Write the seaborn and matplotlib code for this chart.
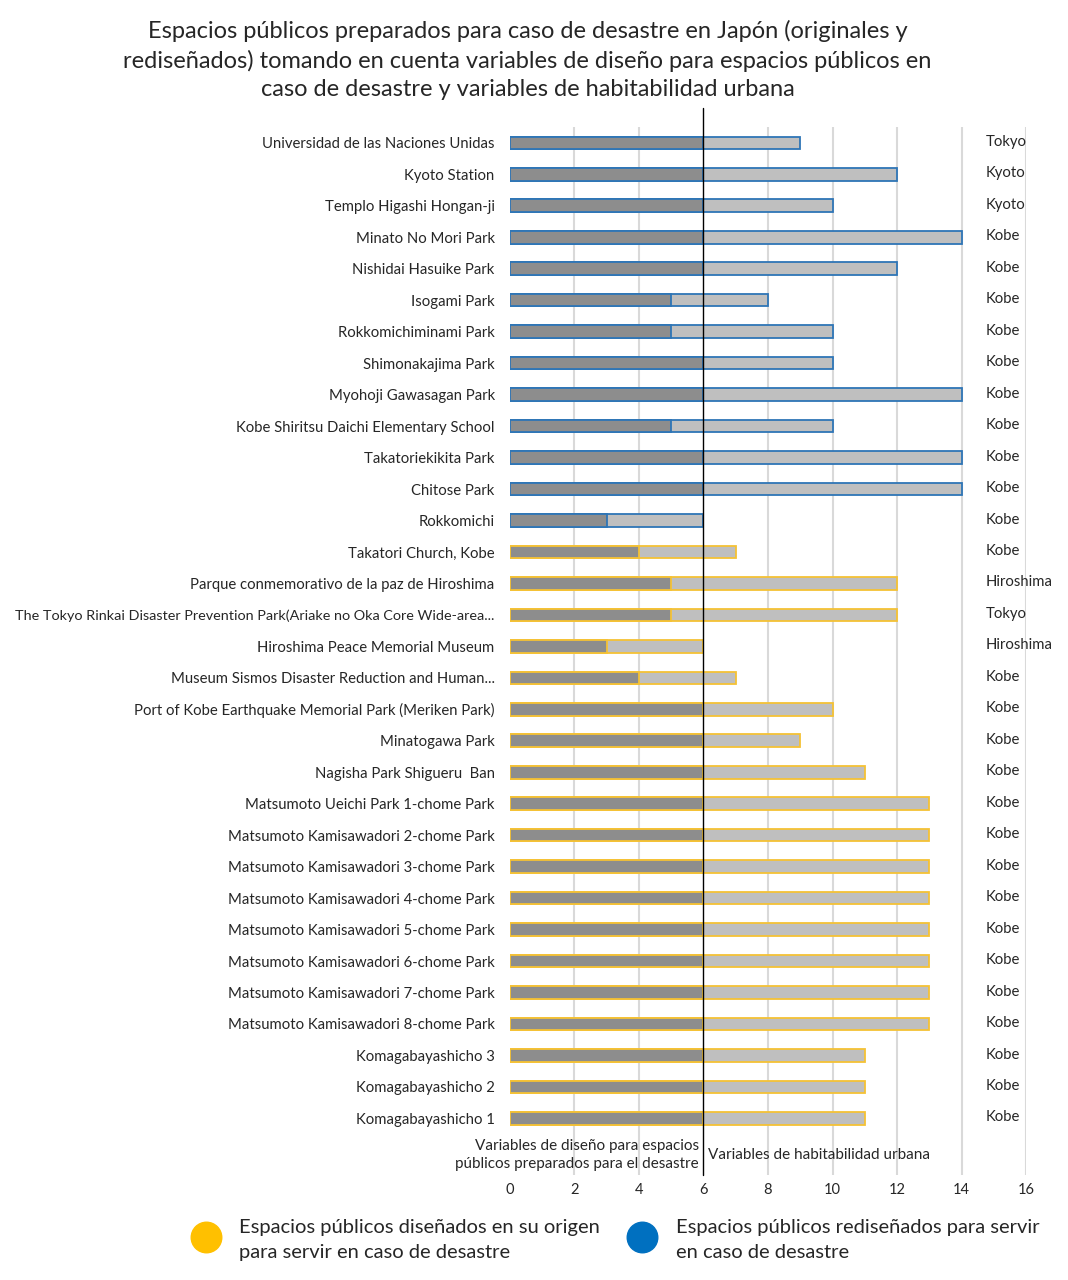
import matplotlib
matplotlib.use("Agg")
import matplotlib.pyplot as plt
import seaborn as sns
import pandas as pd
from matplotlib.lines import Line2D

# ── Data ───────────────────────────────────────────────
places = [
    "Universidad de las Naciones Unidas",
    "Kyoto Station",
    "Templo Higashi Hongan-ji",
    "Minato No Mori Park",
    "Nishidai Hasuike Park",
    "Isogami Park",
    "Rokkomichiminami Park",
    "Shimonakajima Park",
    "Myohoji Gawasagan Park",
    "Kobe Shiritsu Daichi Elementary School",
    "Takatoriekikita Park",
    "Chitose Park",
    "Rokkomichi",
    "Takatori Church, Kobe",
    "Parque conmemorativo de la paz de Hiroshima",
    "The Tokyo Rinkai Disaster Prevention Park(Ariake no Oka Core Wide-area...",
    "Hiroshima Peace Memorial Museum",
    "Museum Sismos Disaster Reduction and Human...",
    "Port of Kobe Earthquake Memorial Park (Meriken Park)",
    "Minatogawa Park",
    "Nagisha Park Shigueru  Ban",
    "Matsumoto Ueichi Park 1-chome Park",
    "Matsumoto Kamisawadori 2-chome Park",
    "Matsumoto Kamisawadori 3-chome Park",
    "Matsumoto Kamisawadori 4-chome Park",
    "Matsumoto Kamisawadori 5-chome Park",
    "Matsumoto Kamisawadori 6-chome Park",
    "Matsumoto Kamisawadori 7-chome Park",
    "Matsumoto Kamisawadori 8-chome Park",
    "Komagabayashicho 3",
    "Komagabayashicho 2",
    "Komagabayashicho 1",
]
cities = ["Tokyo", "Kyoto", "Kyoto", "Kobe", "Kobe", "Kobe", "Kobe", "Kobe",
          "Kobe", "Kobe", "Kobe", "Kobe", "Kobe", "Kobe", "Hiroshima", "Tokyo",
          "Hiroshima", "Kobe", "Kobe", "Kobe", "Kobe", "Kobe", "Kobe", "Kobe",
          "Kobe", "Kobe", "Kobe", "Kobe", "Kobe", "Kobe", "Kobe", "Kobe"]
# variables de diseño para desastre
design_vars = [6, 6, 6, 6, 6, 5, 5, 6, 6, 5, 6, 6, 3,
               4, 5, 5, 3, 4, 6, 6, 6, 6, 6, 6, 6, 6, 6, 6, 6, 6, 6, 6]
# variables de habitabilidad urbana
habit_vars = [3, 6, 4, 8, 6, 3, 5, 4, 8, 5, 8, 8, 3,
              3, 7, 7, 3, 3, 4, 3, 5, 7, 7, 7, 7, 7, 7, 7, 7, 5, 5, 5]
group = ["rediseñado"] * 13 + ["original"] * 19

df = pd.DataFrame({"place": places, "city": cities, "design": design_vars,
                   "habit": habit_vars, "group": group})
df["total"] = df["design"] + df["habit"]

# ── Style ──────────────────────────────────────────────
sns.set_theme(style="white")
plt.rcParams["font.family"] = ["Lato", "DejaVu Sans"]
text_c = "#262626"
dark_gray = "#8d8d8d"
light_gray = "#bfbfbf"
edge_map = {"rediseñado": "#2e75b6", "original": "#f5c235"}

fig = plt.figure(figsize=(10.68, 12.8), dpi=100)
ax = fig.add_axes([0.4775, 0.082, 0.4832, 0.8187])

sns.barplot(data=df, x="total", y="place", color=light_gray, orient="h",
            width=0.4, saturation=1, ax=ax)
sns.barplot(data=df, x="design", y="place", color=dark_gray, orient="h",
            width=0.4, saturation=1, ax=ax)
n = len(df)
for i, p in enumerate(ax.patches):
    p.set_edgecolor(edge_map[df["group"].iloc[i % n]])
    p.set_linewidth(1.3)

# grid lines
for gx in range(2, 17, 2):
    if gx != 6:
        ax.axvline(gx, color="#d9d9d9", lw=1.5, zorder=0)
ax.axvline(6, ymin=0, ymax=1.018, color="black", lw=1, clip_on=False, zorder=5)

ax.set_xlim(0, 16)
ax.set_ylim(32.8, -0.5)
ax.set_xticks(range(0, 17, 2))
ax.tick_params(axis="x", length=0, pad=6, labelsize=10.5, labelcolor=text_c)
ax.tick_params(axis="y", length=0, pad=11, labelsize=10.7, labelcolor=text_c)
ax.set_xlabel("")
ax.set_ylabel("")
sns.despine(ax=ax, left=True, bottom=True)

# the long label runs past the others in the original
for lbl in ax.get_yticklabels():
    if lbl.get_text().startswith("The Tokyo Rinkai"):
        lbl.set_fontsize(10.4)

# city labels on the right
for i, c in enumerate(df["city"]):
    ax.text(14.75, i - 0.03, c, va="center", ha="left", fontsize=10.7,
            color=text_c, clip_on=False)

# axis annotations
ax.text(5.85, 32.15, "Variables de diseño para espacios\npúblicos preparados para el desastre",
        ha="right", va="center", fontsize=11, color=text_c, linespacing=1.35)
ax.text(6.15, 32.15, "Variables de habitabilidad urbana",
        ha="left", va="center", fontsize=11, color=text_c)

# title
fig.text(0.494, 1 - 60 / 1280,
         "Espacios públicos preparados para caso de desastre en Japón (originales y\n"
         "rediseñados) tomando en cuenta variables de diseño para espacios públicos en\n"
         "caso de desastre y variables de habitabilidad urbana",
         ha="center", va="center", fontsize=17, color=text_c, linespacing=1.45)

# legend
fig.add_artist(Line2D([206 / 1068], [1 - 1237 / 1280], marker="o", markersize=22,
                      color="#ffc000", lw=0, transform=fig.transFigure))
fig.add_artist(Line2D([642 / 1068], [1 - 1237 / 1280], marker="o", markersize=22,
                      color="#0070c0", lw=0, transform=fig.transFigure))
fig.text(239 / 1068, 1 - 1240 / 1280,
         "Espacios públicos diseñados en su origen\npara servir en caso de desastre",
         ha="left", va="center", fontsize=14.5, color=text_c, linespacing=1.55)
fig.text(676 / 1068, 1 - 1240 / 1280,
         "Espacios públicos rediseñados para servir\nen caso de desastre",
         ha="left", va="center", fontsize=14.5, color=text_c, linespacing=1.55)

plt.savefig("out.png", dpi=100)
plt.close()
print("saved")
